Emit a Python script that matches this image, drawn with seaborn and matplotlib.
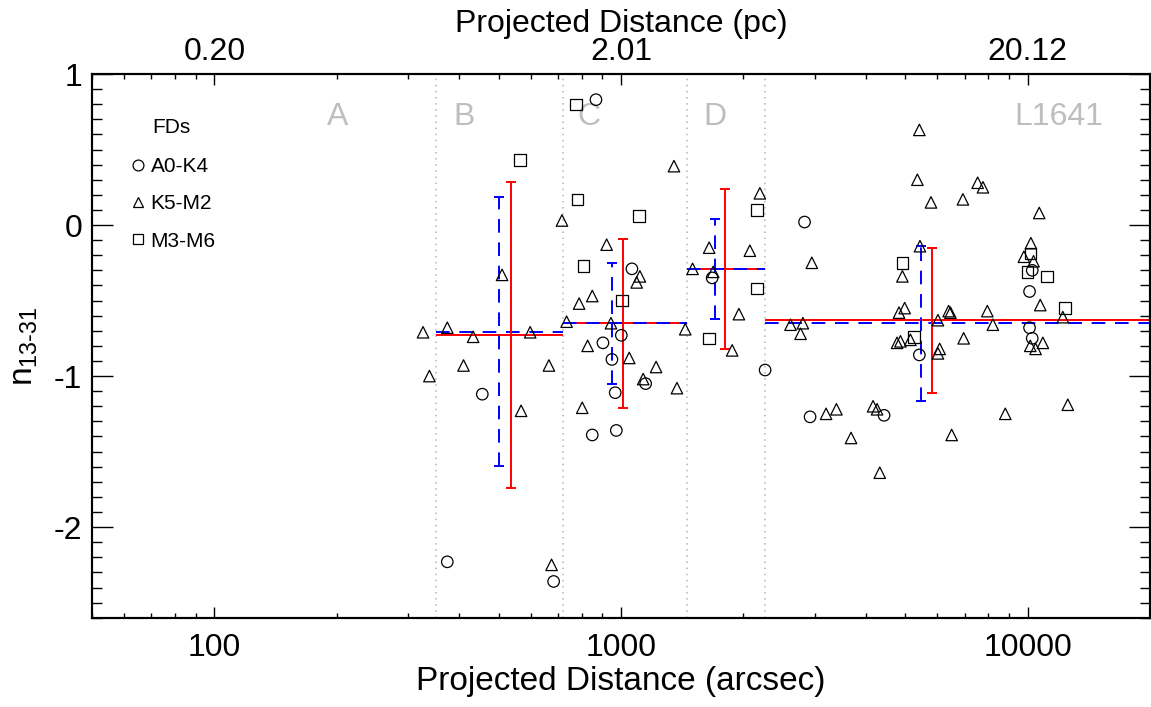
import numpy as np
import pandas as pd
import matplotlib
matplotlib.use("Agg")
import matplotlib.pyplot as plt
from matplotlib.lines import Line2D
from matplotlib.ticker import MultipleLocator, NullFormatter
import matplotlib.transforms as mtransforms
import seaborn as sns

# --- data ---
circ_x = [868, 1064, 1676, 1002, 903, 2262, 456, 950, 1150, 968, 850, 974, 374, 683,
          2828, 10268, 10113, 10113, 10268, 5418, 2918, 4437]
circ_y = [0.83, -0.29, -0.35, -0.73, -0.78, -0.96, -1.12, -0.89, -1.05, -1.11, -1.39, -1.36, -2.23, -2.36,
          0.02, -0.30, -0.44, -0.68, -0.75, -0.86, -1.27, -1.26]

tri_x = [1350, 716, 922, 1113, 1093, 510, 850, 789, 735, 945, 1439, 326, 374, 433, 598, 828,
         2196, 1648, 2075, 1500, 1686, 1950, 1877, 338, 410, 568, 665, 1048, 1220, 1134, 1373, 803,
         675, 2947, 5418, 5358, 5787, 6934, 7537, 7767, 10683, 5437, 4922, 10188, 9793, 10344,
         10745, 12210, 2612, 2801, 2765, 4829, 4986, 6396, 6460, 7962, 6020, 8215, 4775, 4868,
         5150, 6963, 10153, 10464, 10904, 6078, 6020, 3195, 3388, 3680, 4169, 4264, 4330, 6506,
         8814, 12560]
tri_y = [0.39, 0.03, -0.13, -0.34, -0.38, -0.33, -0.47, -0.52, -0.64, -0.65, -0.69, -0.71, -0.68, -0.74, -0.71, -0.80,
         0.21, -0.15, -0.17, -0.29, -0.31, -0.59, -0.83, -1.00, -0.93, -1.23, -0.93, -0.88, -0.94, -1.02, -1.08, -1.21,
         -2.25, -0.25, 0.63, 0.30, 0.15, 0.17, 0.28, 0.25, 0.08, -0.14, -0.34, -0.12, -0.21, -0.24,
         -0.53, -0.61, -0.66, -0.65, -0.72, -0.58, -0.55, -0.57, -0.58, -0.57, -0.63, -0.66, -0.78, -0.77,
         -0.76, -0.75, -0.80, -0.82, -0.78, -0.82, -0.85, -1.25, -1.22, -1.41, -1.20, -1.22, -1.64, -1.39,
         -1.25, -1.19]

sq_x = [775, 565, 781, 1107, 810, 1007, 2159, 2162, 1645, 4931, 10153, 10000, 11153, 12350, 5255]
sq_y = [0.80, 0.43, 0.17, 0.06, -0.27, -0.50, 0.10, -0.42, -0.75, -0.25, -0.19, -0.31, -0.34, -0.55, -0.74]

# bins
bin_edges = [350, 720, 1450, 2260, 20000]
bin_names = ["A", "B", "C", "D", "L1641"]
bin_label_x = [201, 411, 835, 1703, 11950]

# red (solid) and blue (dashed) means with errors
red_x = [536, 1013, 1801, 5808]
red_y = [-0.728, -0.651, -0.291, -0.629]
red_err = [1.01, 0.56, 0.53, 0.48]
blue_x = [500, 952, 1703, 5471]
blue_y = [-0.706, -0.650, -0.290, -0.651]
blue_err = [0.89, 0.40, 0.33, 0.515]

# top axis (pc) tick labels
top_ticks = [100, 1000, 10000]
top_labels = ["0.20", "2.01", "20.12"]

df = pd.DataFrame({
    "dist": circ_x + tri_x + sq_x,
    "n": circ_y + tri_y + sq_y,
    "FDs": ["A0-K4"] * len(circ_x) + ["K5-M2"] * len(tri_x) + ["M3-M6"] * len(sq_x),
})

sns.set_style("ticks")
plt.rcParams["font.family"] = ["Liberation Sans", "DejaVu Sans"]
plt.rcParams["mathtext.fontset"] = "custom"
plt.rcParams["mathtext.rm"] = "Liberation Sans"
plt.rcParams["mathtext.it"] = "Liberation Sans"
plt.rcParams["axes.unicode_minus"] = False
for k in ["text.color", "axes.labelcolor", "xtick.color", "ytick.color", "axes.edgecolor"]:
    plt.rcParams[k] = "black"

fig = plt.figure(figsize=(11.51, 7.07), dpi=100)
ax = fig.add_axes([0.0799, 0.1263, 0.9192, 0.7690])

# bin boundaries
for e in bin_edges[:4]:
    ax.axvline(e, color="#b4b4b4", ls=(0, (1, 3)), lw=1.1, zorder=1)

# region labels
trans = mtransforms.blended_transform_factory(ax.transData, ax.transAxes)
for name, lx in zip(bin_names, bin_label_x):
    ax.text(lx, 0.921, name, transform=trans, ha="center", va="center",
            fontsize=23, color="#bebebe")

# points
sns.scatterplot(data=df, x="dist", y="n", style="FDs",
                markers={"A0-K4": "o", "K5-M2": "^", "M3-M6": "s"},
                s=68, facecolor="none", edgecolor="black", linewidth=0.9,
                legend=False, ax=ax, zorder=3)

# horizontal bin means
ax.hlines(red_y, bin_edges[:4], bin_edges[1:], colors="red", lw=1.4, zorder=2)
ax.hlines(blue_y, bin_edges[:4], bin_edges[1:], colors="blue", lw=1.4,
          linestyles=(0, (7, 5)), zorder=2)

# error bars
ax.errorbar(red_x, red_y, yerr=red_err, fmt="none", ecolor="red",
            elinewidth=1.4, capsize=3.5, capthick=1.4, zorder=2)
eb = ax.errorbar(blue_x, blue_y, yerr=blue_err, fmt="none", ecolor="blue",
                 elinewidth=1.4, capsize=3.5, capthick=1.4, zorder=2)
eb[2][0].set_linestyle((0, (7, 5)))

ax.set_xscale("log")
ax.set_xlim(50, 20000)
ax.set_ylim(-2.6, 1.0)
ax.yaxis.set_major_locator(MultipleLocator(1))
ax.yaxis.set_minor_locator(MultipleLocator(0.1))
ax.set_xticks([100, 1000, 10000])
ax.set_xticklabels(["100", "1000", "10000"])

ax.tick_params(axis="x", which="major", direction="in", length=8, width=1.0,
               labelsize=23, pad=11, top=False)
ax.tick_params(axis="x", which="minor", direction="in", length=3.8, width=1.0, top=False)
ax.tick_params(axis="y", which="major", direction="in", length=15, width=1.0,
               labelsize=23, pad=7, right=True)
ax.tick_params(axis="y", which="minor", direction="in", length=7.5, width=1.0, right=True)

for sp in ax.spines.values():
    sp.set_linewidth(1.5)

ax.set_xlabel("Projected Distance (arcsec)", fontsize=24, labelpad=2)
ax.set_ylabel(r"n$_{\text{13-31}}$", fontsize=24, labelpad=10)

# top axis in pc
ax2 = ax.twiny()
ax2.set_xscale("log")
ax2.set_xlim(ax.get_xlim())
ax2.set_xticks(top_ticks)
ax2.set_xticklabels(top_labels)
ax2.tick_params(axis="x", which="major", direction="in", length=8, width=1.0,
                labelsize=23, pad=5)
ax2.tick_params(axis="x", which="minor", direction="in", length=3.8, width=1.0)
ax2.xaxis.set_minor_formatter(NullFormatter())
ax2.set_xlabel("Projected Distance (pc)", fontsize=23, labelpad=4)
for sp in ax2.spines.values():
    sp.set_linewidth(1.5)

# legend
handles = [Line2D([], [], marker=m, ls="none", mfc="none", mec="black", ms=7.8, mew=0.9)
           for m in ["o", "^", "s"]]
ax.legend(handles, ["A0-K4", "K5-M2", "M3-M6"], loc="upper left",
          bbox_to_anchor=(0.027, 0.866), frameon=False, fontsize=15,
          handlelength=0.7, handletextpad=0.25, labelspacing=0.87, borderpad=0)
ax.text(0.0567, 0.902, "FDs", transform=ax.transAxes, ha="left", va="center", fontsize=15)

fig.savefig("out.png", dpi=100)
